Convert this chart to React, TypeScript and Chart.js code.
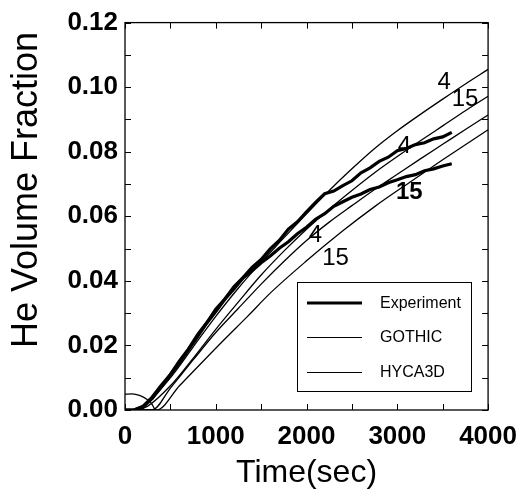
import React, { useEffect, useRef } from 'react';
import { Chart, registerables } from 'chart.js';

Chart.register(...registerables);

// ---- data ----
const expTime = [0, 100, 200, 300, 400, 500, 600, 700, 800, 900, 1000, 1100, 1200, 1300, 1400, 1500, 1600, 1700, 1800, 1900, 2000, 2100, 2200, 2300, 2400, 2500, 2600, 2700, 2800, 2900, 3000, 3100, 3200, 3300, 3400, 3500, 3600];
const exp4 = [0, 0, 0.0012, 0.0040, 0.0077, 0.0110, 0.0152, 0.0189, 0.0233, 0.0270, 0.0312, 0.0344, 0.0382, 0.0410, 0.0442, 0.0466, 0.0499, 0.0525, 0.0560, 0.0583, 0.0614, 0.0643, 0.0670, 0.0678, 0.0695, 0.0710, 0.0735, 0.0750, 0.0770, 0.0783, 0.0803, 0.0810, 0.0822, 0.0828, 0.0840, 0.0846, 0.0860];
const exp15 = [0, 0, 0.0010, 0.0036, 0.0071, 0.0109, 0.0146, 0.0187, 0.0227, 0.0269, 0.0305, 0.0343, 0.0375, 0.0409, 0.0431, 0.0456, 0.0477, 0.0501, 0.0521, 0.0546, 0.0566, 0.0591, 0.0608, 0.0631, 0.0645, 0.0659, 0.0669, 0.0683, 0.0691, 0.0704, 0.0713, 0.0723, 0.0729, 0.0741, 0.0747, 0.0756, 0.0763];

const gothicTime = [0, 100, 250, 500, 750, 1000, 1250, 1500, 1750, 2000, 2250, 2500, 2750, 3000, 3250, 3500, 3750, 4000];
const gothic4 = [0, 0, 0.0025, 0.0100, 0.0195, 0.0290, 0.0378, 0.0458, 0.0533, 0.0608, 0.0680, 0.0747, 0.0810, 0.0865, 0.0915, 0.0963, 0.1010, 0.1055];
const gothic15 = [0, 0, 0.0012, 0.0075, 0.0160, 0.0250, 0.0335, 0.0418, 0.0492, 0.0560, 0.0622, 0.0680, 0.0735, 0.0785, 0.0833, 0.0880, 0.0927, 0.0972];

const hyca4Time = [0, 300, 500, 750, 1000, 1250, 1500, 1750, 2000, 2250, 2500, 2750, 3000, 3250, 3500, 3750, 4000];
const hyca4 = [0, 0, 0.0068, 0.0155, 0.0240, 0.0315, 0.0390, 0.0460, 0.0525, 0.0582, 0.0633, 0.0683, 0.0730, 0.0777, 0.0823, 0.0869, 0.0914];
const hyca15Time = [0, 350, 600, 850, 1100, 1350, 1600, 2000, 2400, 2750, 3150, 3500, 4000];
const hyca15 = [0, 0, 0.0075, 0.0148, 0.0220, 0.0290, 0.0362, 0.0462, 0.0555, 0.0630, 0.0708, 0.0775, 0.0868];

const arcTime = [0, 80, 160, 240, 300, 330];
const arcValue = [0.0049, 0.0050, 0.0045, 0.0033, 0.0017, 0];

const legendLabels = ['Experiment', 'GOTHIC', 'HYCA3D'];
const curveLabelText = ['4', '15', '4', '15', '4', '15'];
const curveLabelTime = [3516, 3747, 3077, 3132, 2099, 2319];
const curveLabelValue = [0.1015, 0.0963, 0.0818, 0.0674, 0.0542, 0.0471];
const curveLabelBold = [false, false, false, true, false, false];

const xTitle = 'Time(sec)';
const yTitle = 'He Volume Fraction';

const FONT = '"Liberation Sans", Arial, Helvetica, sans-serif';

const pts = (xs: number[], ys: number[]) => xs.map((x, i) => ({ x, y: ys[i] }));

const decorPlugin = {
  id: 'decor',
  afterDatasetsDraw(chart: any) {
    const { ctx, chartArea: a, scales } = chart;
    const xs = scales.x;
    const ys = scales.y;
    ctx.save();
    ctx.strokeStyle = '#000';
    ctx.fillStyle = '#000';
    // frame
    ctx.lineWidth = 1.3;
    ctx.strokeRect(a.left, a.top, a.right - a.left, a.bottom - a.top);
    // inward ticks
    ctx.lineWidth = 1;
    const tl = 6;
    ctx.beginPath();
    xs.ticks.forEach((t: any) => {
      const px = Math.round(xs.getPixelForValue(t.value)) + 0.5;
      ctx.moveTo(px, a.bottom);
      ctx.lineTo(px, a.bottom - tl);
      ctx.moveTo(px, a.top);
      ctx.lineTo(px, a.top + tl);
    });
    ys.ticks.forEach((t: any) => {
      const py = Math.round(ys.getPixelForValue(t.value)) + 0.5;
      ctx.moveTo(a.left, py);
      ctx.lineTo(a.left + tl, py);
      ctx.moveTo(a.right, py);
      ctx.lineTo(a.right - tl, py);
    });
    ctx.stroke();

    // curve labels
    ctx.textAlign = 'center';
    ctx.textBaseline = 'middle';
    curveLabelText.forEach((txt, i) => {
      ctx.font = `${curveLabelBold[i] ? 'bold ' : ''}24px ${FONT}`;
      ctx.fillText(txt, xs.getPixelForValue(curveLabelTime[i]), ys.getPixelForValue(curveLabelValue[i]));
    });

    // legend
    const bx = 297.5, by = 282.5, bw = 174, bh = 109;
    ctx.fillStyle = '#fff';
    ctx.fillRect(bx, by, bw, bh);
    ctx.fillStyle = '#000';
    ctx.lineWidth = 1;
    ctx.strokeRect(bx, by, bw, bh);
    const rows = [303.5, 337.5, 372.5];
    legendLabels.forEach((lab, i) => {
      ctx.beginPath();
      ctx.lineWidth = i === 0 ? 3 : 1;
      ctx.moveTo(307, i === 0 ? rows[i] - 0.5 : rows[i]);
      ctx.lineTo(362, i === 0 ? rows[i] - 0.5 : rows[i]);
      ctx.stroke();
      ctx.font = `16px ${FONT}`;
      ctx.textAlign = 'left';
      ctx.textBaseline = 'middle';
      ctx.fillText(lab, 380, rows[i]);
    });

    // y title
    ctx.save();
    ctx.translate(27, 190);
    ctx.rotate(-Math.PI / 2);
    ctx.font = `36px ${FONT}`;
    ctx.textAlign = 'center';
    ctx.textBaseline = 'middle';
    ctx.fillText(yTitle, 0, 0);
    ctx.restore();
    ctx.restore();
  },
};

export default function App() {
  const ref = useRef<HTMLCanvasElement>(null);
  useEffect(() => {
    const thin = { borderColor: '#000', borderWidth: 1.3, pointRadius: 0, fill: false, cubicInterpolationMode: 'monotone' as const };
    const thick = { borderColor: '#000', borderWidth: 3.2, pointRadius: 0, fill: false, tension: 0 };
    const chart = new Chart(ref.current!, {
      type: 'line',
      data: {
        datasets: [
          { label: 'Experiment 4', data: pts(expTime, exp4), ...thick },
          { label: 'Experiment 15', data: pts(expTime, exp15), ...thick },
          { label: 'GOTHIC 4', data: pts(gothicTime, gothic4), ...thin },
          { label: 'GOTHIC 15', data: pts(gothicTime, gothic15), ...thin },
          { label: 'HYCA3D 4', data: pts(hyca4Time, hyca4), ...thin },
          { label: 'HYCA3D 15', data: pts(hyca15Time, hyca15), ...thin },
          { label: 'arc', data: pts(arcTime, arcValue), ...thin },
        ],
      },
      options: {
        responsive: false,
        animation: false,
        layout: { padding: { left: 0, right: 39, top: 20, bottom: 0 } },
        plugins: { legend: { display: false }, tooltip: { enabled: false } },
        scales: {
          x: {
            type: 'linear',
            min: 0,
            max: 4000,
            grid: { display: false, drawTicks: false },
            border: { display: false },
            afterFit: (s: any) => { s.height = 87; },
            ticks: {
              stepSize: 500,
              autoSkip: false,
              maxRotation: 0,
              padding: 11,
              color: '#000',
              font: { family: FONT, size: 26, weight: 'bold' },
              callback: (v: any) => (Math.round(v) % 1000 === 0 ? String(Math.round(v)) : ''),
            },
            title: {
              display: true,
              text: xTitle,
              color: '#000',
              font: { family: FONT, size: 32 },
              padding: { top: 0, bottom: 5 },
            },
          },
          y: {
            type: 'linear',
            min: 0,
            max: 0.12,
            grid: { display: false, drawTicks: false },
            border: { display: false },
            afterFit: (s: any) => { s.width = 125; },
            ticks: {
              stepSize: 0.01,
              autoSkip: false,
              padding: 7,
              color: '#000',
              font: { family: FONT, size: 26, weight: 'bold' },
              callback: (v: any) => (Math.round(v * 100) % 2 === 0 ? Number(v).toFixed(2) : ''),
            },
          },
        },
      },
      plugins: [decorPlugin],
    });
    return () => chart.destroy();
  }, []);
  return (
    <div style={{ position: 'absolute', left: 0, top: 0, width: 528, height: 497, background: '#fff' }}>
      <canvas ref={ref} width={528} height={497} style={{ display: 'block' }} />
    </div>
  );
}
